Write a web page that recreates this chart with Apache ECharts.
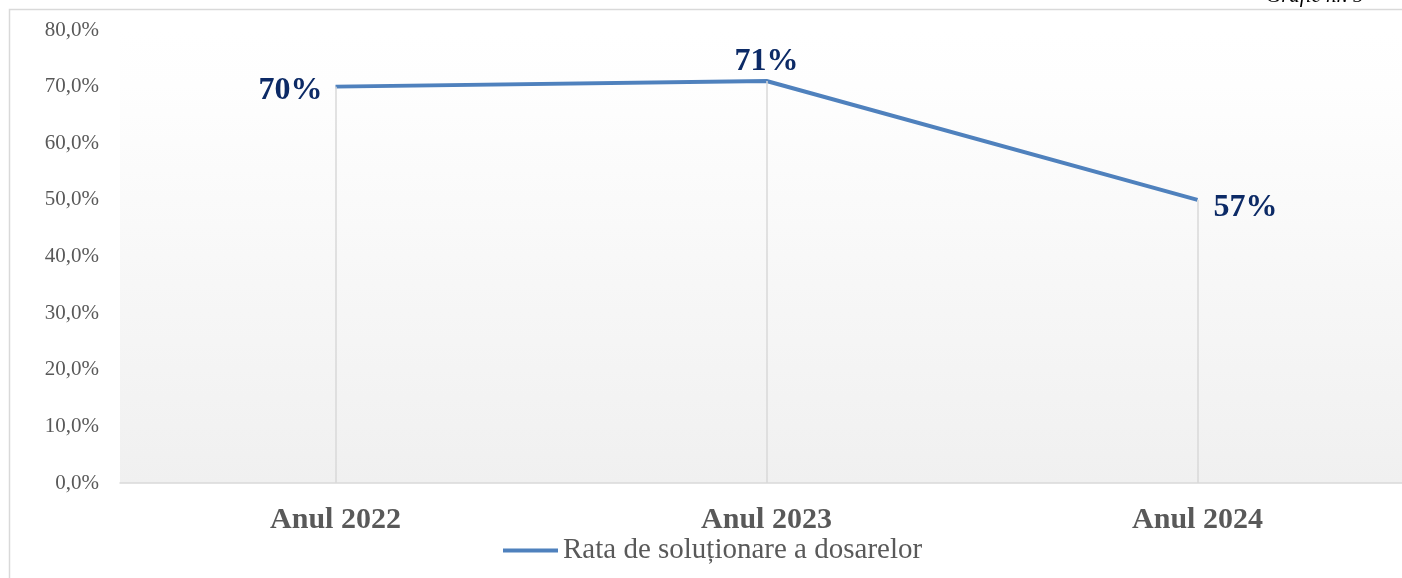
<!DOCTYPE html>
<html>
<head>
<meta charset="utf-8">
<script src="https://cdn.jsdelivr.net/npm/echarts@6/dist/echarts.min.js"></script>
<style>
  html, body { margin: 0; padding: 0; background: #fff; overflow: hidden; }
  #chart { width: 1420px; height: 578px; }
</style>
</head>
<body>
<div id="chart"></div>
<script>
  const categories = ['Anul 2022', 'Anul 2023', 'Anul 2024'];
  const rateValues = [0.70, 0.71, 0.50];
  const rateLabels = ['70%', '71%', '57%'];
  const seriesName = 'Rata de soluționare a dosarelor';

  const serif = '"Liberation Serif", "DejaVu Serif", serif';
  const labelPos = ['left', 'top', 'right'];
  const labelOffset = [[1, 4], [0, 11], [2, 8]];

  const myChart = echarts.init(document.getElementById('chart'));

  // vertical drop lines from each point down to the axis
  const dropLines = categories.map((c, i) => [
    { coord: [c, 0] },
    { coord: [c, rateValues[i]] }
  ]);

  myChart.setOption({
    animation: false,
    graphic: [
      {
        type: 'rect',
        left: 7, top: 7,
        shape: { width: 1420, height: 580 },
        style: { fill: 'none', stroke: '#d9d9d9', lineWidth: 1.5 }
      },
      {
        type: 'text',
        left: 1266, top: -14,
        style: {
          text: 'Grafic nr. 5',
          fontFamily: serif,
          fontStyle: 'italic',
          fontSize: 21,
          fill: '#000'
        }
      }
    ],
    grid: {
      left: 120,
      top: 30,
      width: 1293,
      height: 453,
      show: true,
      borderWidth: 0,
      backgroundColor: {
        type: 'linear', x: 0, y: 0, x2: 0, y2: 1,
        colorStops: [
          { offset: 0, color: '#ffffff' },
          { offset: 0.12, color: '#fefefe' },
          { offset: 1, color: '#f0f0f0' }
        ]
      }
    },
    legend: {
      top: 531,
      left: 498,
      itemWidth: 55,
      itemHeight: 4,
      itemGap: 0,
      icon: 'rect',
      textStyle: { fontFamily: serif, fontSize: 29, color: '#595959', padding: [0, 0, 0, 0] },
      data: [seriesName]
    },
    xAxis: {
      type: 'category',
      data: categories,
      boundaryGap: true,
      axisLine: { lineStyle: { color: '#d9d9d9', width: 1.5 } },
      axisTick: { show: false },
      axisLabel: {
        margin: 22,
        fontFamily: serif,
        fontSize: 30,
        fontWeight: 'bold',
        color: '#595959'
      }
    },
    yAxis: {
      type: 'value',
      min: 0,
      max: 0.8,
      interval: 0.1,
      splitLine: { show: false },
      axisLine: { show: false },
      axisTick: { show: false },
      axisLabel: {
        margin: 21,
        fontFamily: serif,
        fontSize: 21,
        color: '#595959',
        formatter: v => (v * 100).toFixed(1).replace('.', ',') + '%'
      }
    },
    series: [
      {
        name: seriesName,
        type: 'line',
        symbol: 'circle',
        symbolSize: 0,
        showSymbol: true,
        itemStyle: { color: '#4f81bd' },
        lineStyle: { color: '#4f81bd', width: 4 },
        data: rateValues.map((v, i) => ({
          value: v,
          label: {
            show: true,
            position: labelPos[i],
            offset: labelOffset[i],
            distance: 14,
            formatter: rateLabels[i],
            fontFamily: serif,
            fontSize: 32,
            fontWeight: 'bold',
            color: '#0c2a66'
          }
        })),
        markLine: {
          silent: true,
          symbol: 'none',
          label: { show: false },
          lineStyle: { color: '#d9d9d9', width: 1.5, type: 'solid' },
          data: dropLines
        },
        z: 3
      }
    ]
  });
</script>
</body>
</html>
